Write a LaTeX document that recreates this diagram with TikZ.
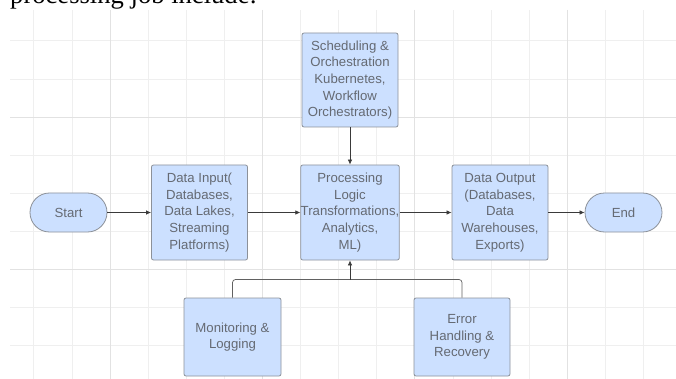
\documentclass[tikz,border=0pt]{standalone}
\usepackage{fontspec}
\setmainfont{Liberation Sans}
\newfontfamily\serifface{Liberation Serif}
\usetikzlibrary{arrows.meta}

\definecolor{boxfill}{HTML}{CCE0FF}
\definecolor{boxline}{HTML}{8C9199}
\definecolor{boxtext}{HTML}{656A73}
\definecolor{gridminor}{HTML}{EFEFEF}
\definecolor{gridmajor}{HTML}{E2E2E2}
\definecolor{linecol}{HTML}{3A3A3A}

\begin{document}
\begin{tikzpicture}[x=1pt,y=-1pt,
  box/.style={draw=boxline, fill=boxfill, rounded corners=2pt, line width=0.8pt,
    text=boxtext, align=center, inner sep=0pt,
    font=\fontsize{13.2}{16.7}\selectfont},
  procbox/.style={box, minimum width=96pt, minimum height=95pt},
  termbox/.style={box, rounded corners=19.5pt, minimum width=77pt, minimum height=39pt},
  flow/.style={draw=linecol, line width=0.7pt, -{Latex[length=5pt,width=4.5pt]}},
  feed/.style={draw=linecol!80, line width=0.7pt, rounded corners=3pt},
  minorline/.style={draw=gridminor, line width=0.7pt},
  majorline/.style={draw=gridmajor, line width=0.9pt},
]
\path[use as bounding box, clip] (0,0) rectangle (676,379);

% background grid
\foreach \k in {-2,...,14}
  \draw[minorline] ({110+38.1*\k},10) -- ({110+38.1*\k},379);
\foreach \k in {-2,...,6}
  \draw[minorline] (10,{117+38.1*\k}) -- (676,{117+38.1*\k});
\foreach \k in {0,4,8,12}
  \draw[majorline] ({110+38.1*\k},10) -- ({110+38.1*\k},379);
\foreach \k in {0,4}
  \draw[majorline] (10,{117+38.1*\k}) -- (676,{117+38.1*\k});

% running text above the chart
\node[anchor=base west, inner sep=0pt, text=black,
  font=\serifface\fontsize{26.6}{30}\selectfont] (lead) at (10,4) {processing job include:};

% nodes
\node[procbox, minimum height=94pt] (sched) at (350,80)
  {Scheduling \&\\Orchestration\\Kubernetes,\\Workflow\\Orchestrators)};
\node[termbox] (start) at (68.5,212.5) {Start};
\node[procbox] (input) at (199.5,212.5)
  {Data Input(\\Databases,\\Data Lakes,\\Streaming\\Platforms)};
\node[procbox] (logic) at (350,212.5)
  {Processing\\Logic\\Transformations,\\Analytics,\\ML)};
\node[procbox] (output) at (500,212.5)
  {Data Output\\(Databases,\\Data\\Warehouses,\\Exports)};
\node[termbox] (finish) at (623.5,212.5) {End};
\node[box, minimum width=97pt, minimum height=78pt] (monitor) at (232.5,337)
  {Monitoring \&\\Logging};
\node[box, minimum width=96pt, minimum height=78pt] (error) at (462,337)
  {Error\\Handling \&\\Recovery};

% connectors
\draw[flow] (start) -- (input);
\draw[flow] (input) -- (logic);
\draw[flow] (logic) -- (output);
\draw[flow] (output) -- (finish);
\draw[flow] (sched) -- (logic);

\coordinate (join) at (350,279.5);
\draw[feed] (monitor.north) |- (join);
\draw[feed] (error.north) |- (join);
\draw[flow] (join) -- (logic.south);
\end{tikzpicture}
\end{document}
